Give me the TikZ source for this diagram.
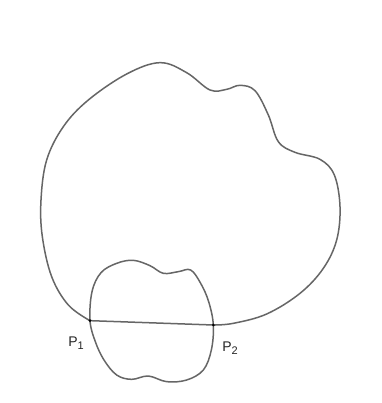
\documentclass[tikz,border=0pt]{standalone}
\usepackage{fontspec}
\setmainfont{Liberation Sans}
\newcommand{\mysub}[1]{\raisebox{-0.45ex}{\fontsize{11}{12}\selectfont #1}}
\begin{document}
\begin{tikzpicture}[x=0.3333pt,y=-0.3333pt,
  pencil/.style={draw=black!60,line width=1.5pt,line join=round,line cap=round},
  lbl/.style={font=\fontsize{14}{16}\selectfont,text=black!85,inner sep=0pt},
  pdot/.style={circle,fill=black,inner sep=0pt,minimum size=3pt}]
\useasboundingbox (0,0) rectangle (1146,1209);
\fill[white] (0,0) rectangle (1146,1209);
\coordinate (P1) at (270,962);
\coordinate (P2) at (640,975);
% big outline
\draw[pencil] plot[smooth,tension=0.6] coordinates {
 (270,962) (205,915) (155,830) (127,710) (123,600) (140,480) (190,380)
 (265,300) (380,222) (480,188) (560,218) (630,270) (680,268) (720,256)
 (765,272) (805,345) (835,425) (885,457) (960,478) (1003,525) (1020,620)
 (1010,720) (970,805) (900,880) (800,942) (700,970) (640,975)};
% chord
\draw[pencil] (P1) -- (P2);
% small apple shape
\draw[pencil] plot[smooth cycle,tension=0.6] coordinates {
 (270,962) (276,875) (303,818) (350,790) (400,781) (450,797) (490,820)
 (535,815) (572,810) (602,850) (626,905) (640,975) (634,1050) (610,1110)
 (560,1140) (500,1145) (445,1128) (395,1138) (350,1125) (312,1080) (286,1025)};
\node[pdot] at (P1) {};
\node[pdot] at (P2) {};
\node[lbl] (L1) at (228,1030) {P\mysub{1}};
\node[lbl] (L2) at (690,1045) {P\mysub{2}};
\end{tikzpicture}
\end{document}
